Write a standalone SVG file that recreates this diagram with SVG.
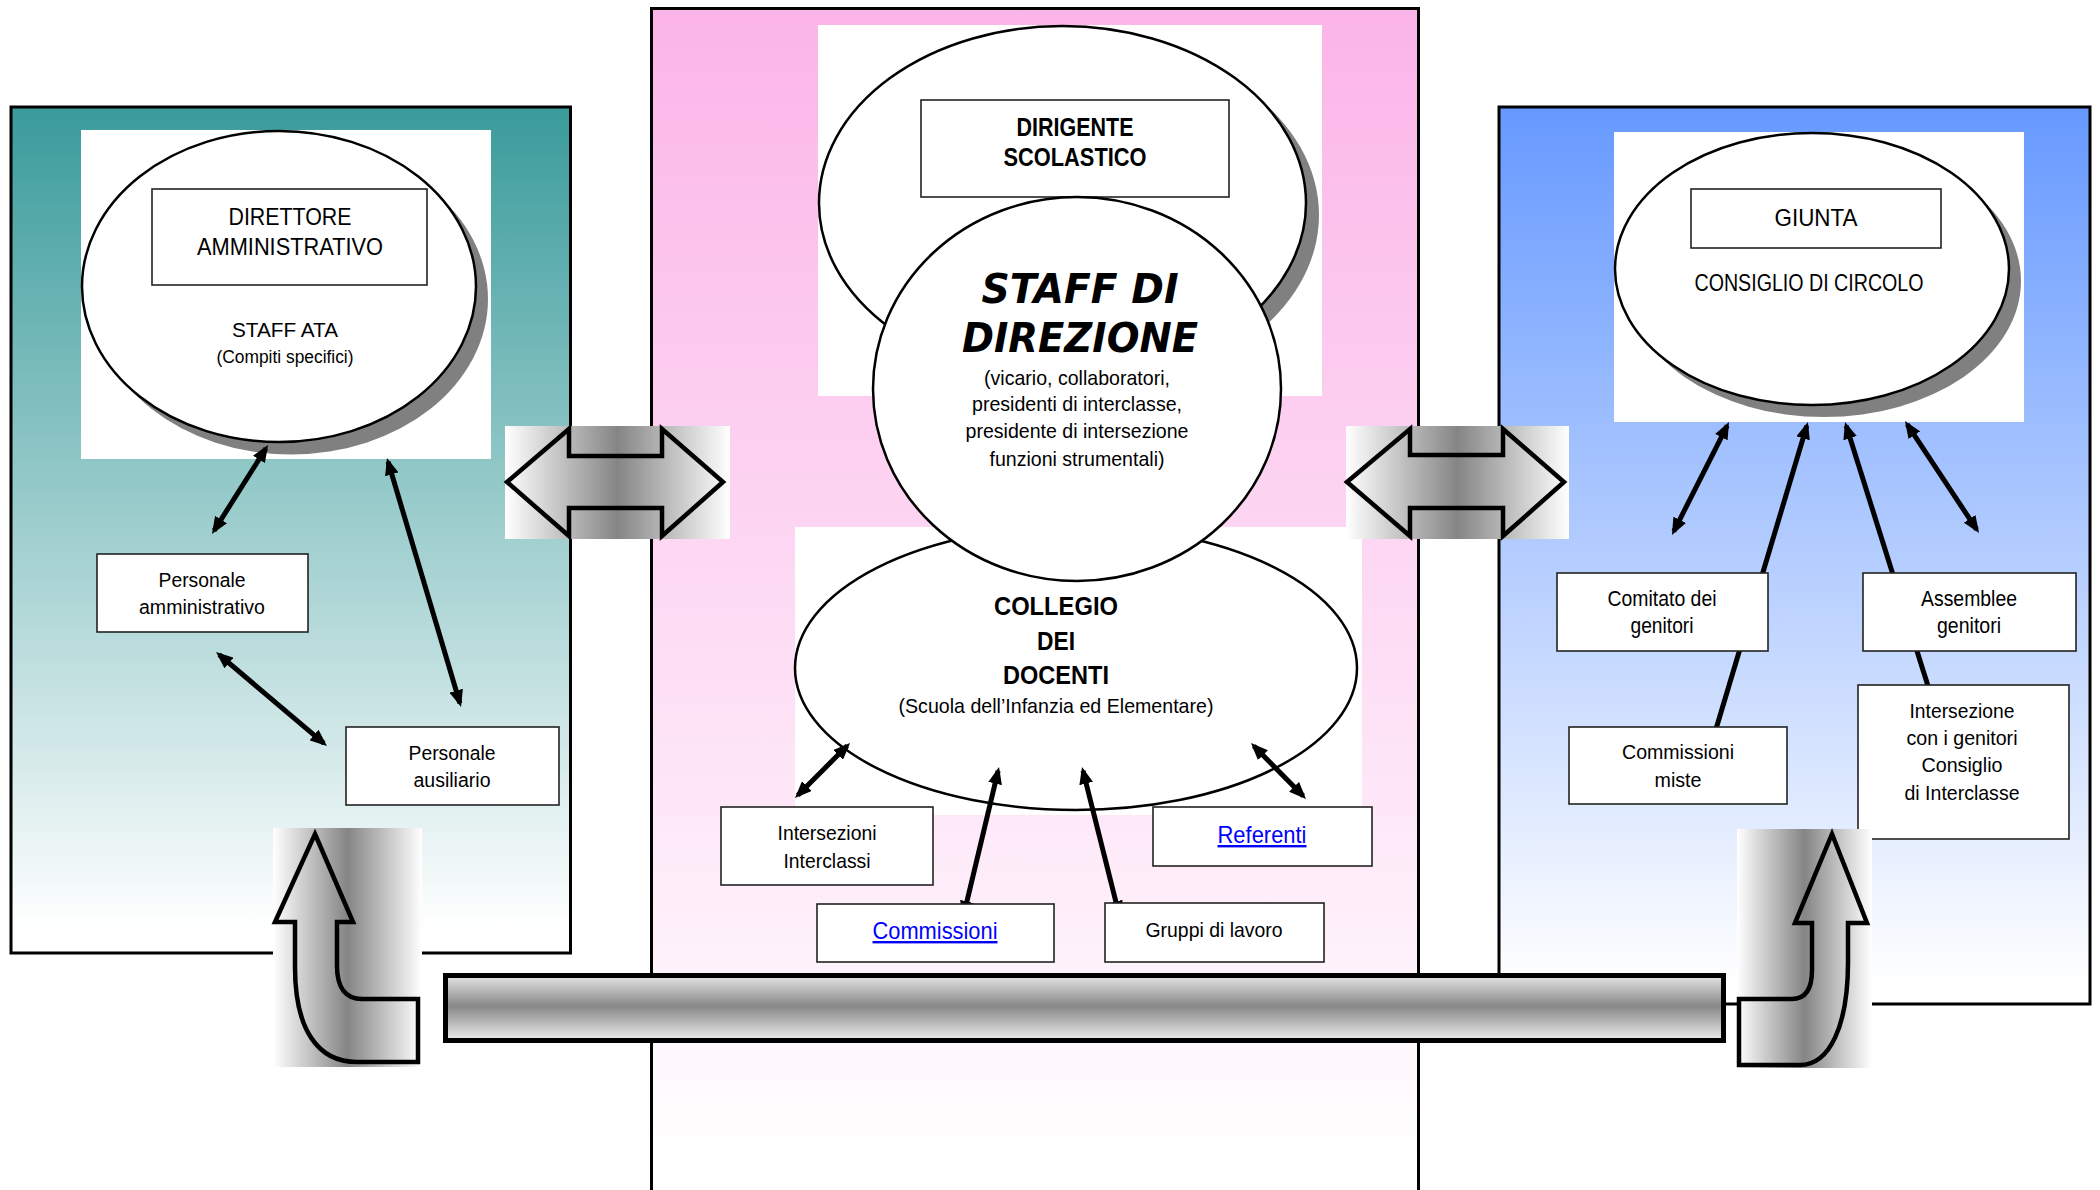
<svg xmlns="http://www.w3.org/2000/svg" width="2100" height="1190" viewBox="0 0 2100 1190">
<defs>
<style>
.t{font-family:"Liberation Sans Narrow","Arial Narrow","Liberation Sans",Arial,sans-serif;text-anchor:middle;fill:#000}
.b{font-weight:bold}
.lnk{fill:#0000ff;text-decoration:underline}
.box{fill:#fff;stroke:#222;stroke-width:1.6}
.ell{fill:#fff;stroke:#000;stroke-width:2.5}
.shd{fill:#808080}
.pan{stroke:#000;stroke-width:3}
.con{stroke:#000;stroke-width:5;fill:none}
.big{fill:none;stroke:#000;stroke-width:4.5;stroke-linejoin:miter}
</style>
<linearGradient id="gTeal" gradientUnits="userSpaceOnUse" x1="0" y1="107" x2="0" y2="953">
<stop offset="0" stop-color="#3a9b9b"/><stop offset="0.973" stop-color="#ffffff"/><stop offset="1" stop-color="#ffffff"/>
</linearGradient>
<linearGradient id="gPink" gradientUnits="userSpaceOnUse" x1="0" y1="8" x2="0" y2="1190">
<stop offset="0" stop-color="#fbb4e8"/><stop offset="0.98" stop-color="#ffffff"/><stop offset="1" stop-color="#ffffff"/>
</linearGradient>
<linearGradient id="gBlue" gradientUnits="userSpaceOnUse" x1="0" y1="107" x2="0" y2="1004">
<stop offset="0" stop-color="#6699ff"/><stop offset="0.98" stop-color="#ffffff"/><stop offset="1" stop-color="#ffffff"/>
</linearGradient>
<linearGradient id="gH" x1="0" y1="0" x2="1" y2="0">
<stop offset="0" stop-color="#ffffff"/><stop offset="0.5" stop-color="#858585"/><stop offset="1" stop-color="#ffffff"/>
</linearGradient>
<linearGradient id="gV" x1="0" y1="0" x2="0" y2="1">
<stop offset="0" stop-color="#e6e6e6"/><stop offset="0.47" stop-color="#878787"/><stop offset="1" stop-color="#eeeeee"/>
</linearGradient>
<marker id="ah" markerUnits="userSpaceOnUse" markerWidth="17" markerHeight="14" refX="13" refY="7" orient="auto-start-reverse" viewBox="0 0 17 14">
<path d="M0,0 L17,7 L0,14 Z" fill="#000"/>
</marker>
</defs>

<!-- panels -->
<g id="panel-left">
<rect class="pan" x="11" y="107" width="559.5" height="846" fill="url(#gTeal)"/>
<rect x="81" y="130" width="410" height="329" fill="#fff"/>
</g>
<g id="panel-center">
<rect class="pan" x="651.5" y="8.5" width="767" height="1200" fill="url(#gPink)"/>
<rect x="818" y="25" width="504" height="371" fill="#fff"/>
<rect x="795" y="527" width="567" height="288" fill="#fff"/>
</g>
<g id="panel-right">
<rect class="pan" x="1499" y="107" width="591" height="897" fill="url(#gBlue)"/>
<rect x="1614" y="132" width="410" height="290" fill="#fff"/>
</g>

<!-- ellipse nodes -->
<g id="direttore">
<ellipse class="shd" cx="291" cy="299" rx="197" ry="155.5"/>
<ellipse class="ell" cx="279" cy="286.5" rx="197" ry="155.5"/>
<rect class="box" x="152" y="189" width="275" height="96"/>
<text class="t" x="290" y="225" font-size="23" textLength="123" lengthAdjust="spacingAndGlyphs">DIRETTORE</text>
<text class="t" x="290" y="255" font-size="23" textLength="186" lengthAdjust="spacingAndGlyphs">AMMINISTRATIVO</text>
<text class="t" x="285" y="337" font-size="20" textLength="106" lengthAdjust="spacingAndGlyphs">STAFF ATA</text>
<text class="t" x="285" y="363" font-size="18" textLength="137" lengthAdjust="spacingAndGlyphs">(Compiti specifici)</text>
</g>
<g id="dirigente">
<ellipse class="shd" cx="1075.5" cy="215" rx="243.5" ry="177"/>
<ellipse class="ell" cx="1062.5" cy="203" rx="243.5" ry="177"/>
<rect class="box" x="921" y="100" width="308" height="97"/>
<text class="t b" x="1075" y="136" font-size="25" textLength="117" lengthAdjust="spacingAndGlyphs">DIRIGENTE</text>
<text class="t b" x="1075" y="166" font-size="25" textLength="143" lengthAdjust="spacingAndGlyphs">SCOLASTICO</text>
</g>
<g id="collegio">
<ellipse class="ell" cx="1076" cy="668" rx="281" ry="142"/>
<text class="t b" x="1056" y="615" font-size="25" textLength="124" lengthAdjust="spacingAndGlyphs">COLLEGIO</text>
<text class="t b" x="1056" y="650" font-size="25" textLength="38" lengthAdjust="spacingAndGlyphs">DEI</text>
<text class="t b" x="1056" y="684" font-size="25" textLength="106" lengthAdjust="spacingAndGlyphs">DOCENTI</text>
<text class="t" x="1056" y="713" font-size="21" textLength="315" lengthAdjust="spacingAndGlyphs">(Scuola dell’Infanzia ed Elementare)</text>
</g>
<g id="staff-direzione">
<ellipse class="ell" cx="1077" cy="389" rx="204" ry="192"/>
<text x="1080" y="303" font-family="'DejaVu Sans',Verdana,sans-serif" font-weight="bold" font-style="italic" font-size="41" text-anchor="middle" textLength="197" lengthAdjust="spacingAndGlyphs">STAFF DI</text>
<text x="1080" y="352" font-family="'DejaVu Sans',Verdana,sans-serif" font-weight="bold" font-style="italic" font-size="41" text-anchor="middle" textLength="236" lengthAdjust="spacingAndGlyphs">DIREZIONE</text>
<text class="t" x="1077" y="385" font-size="21" textLength="186" lengthAdjust="spacingAndGlyphs">(vicario, collaboratori,</text>
<text class="t" x="1077" y="411" font-size="21" textLength="210" lengthAdjust="spacingAndGlyphs">presidenti di interclasse,</text>
<text class="t" x="1077" y="438" font-size="21" textLength="223" lengthAdjust="spacingAndGlyphs">presidente di intersezione</text>
<text class="t" x="1077" y="466" font-size="21" textLength="175" lengthAdjust="spacingAndGlyphs">funzioni strumentali)</text>
</g>
<g id="giunta">
<ellipse class="shd" cx="1824" cy="281" rx="197" ry="136"/>
<ellipse class="ell" cx="1812" cy="269" rx="197" ry="136"/>
<rect class="box" x="1691" y="189" width="250" height="59"/>
<text class="t" x="1816" y="226" font-size="24" textLength="83" lengthAdjust="spacingAndGlyphs">GIUNTA</text>
<text class="t" x="1809" y="291" font-size="23" textLength="229" lengthAdjust="spacingAndGlyphs">CONSIGLIO DI CIRCOLO</text>
</g>

<!-- connectors -->
<g id="connectors">
<line class="con" x1="265.9" y1="448.4" x2="214.1" y2="530.6" marker-start="url(#ah)" marker-end="url(#ah)"/>
<line class="con" x1="388.1" y1="461.8" x2="459.9" y2="703.2" marker-start="url(#ah)" marker-end="url(#ah)"/>
<line class="con" x1="219.1" y1="654.6" x2="323.9" y2="743.4" marker-start="url(#ah)" marker-end="url(#ah)"/>
<line class="con" x1="847.2" y1="745.8" x2="797.8" y2="795.2" marker-start="url(#ah)" marker-end="url(#ah)"/>
<line class="con" x1="998.1" y1="770.9" x2="963.9" y2="914.1" marker-start="url(#ah)" marker-end="url(#ah)"/>
<line class="con" x1="1083" y1="770.9" x2="1119" y2="914.1" marker-start="url(#ah)" marker-end="url(#ah)"/>
<line class="con" x1="1253.8" y1="745.9" x2="1303.2" y2="796.1" marker-start="url(#ah)" marker-end="url(#ah)"/>
<line class="con" x1="1727.2" y1="425.6" x2="1673.8" y2="531.4" marker-start="url(#ah)" marker-end="url(#ah)"/>
<line class="con" x1="1716" y1="729" x2="1806.8" y2="425.8" marker-end="url(#ah)"/>
<line class="con" x1="1928" y1="686" x2="1846.2" y2="425.8" marker-end="url(#ah)"/>
<line class="con" x1="1907.2" y1="424.3" x2="1976.8" y2="529.7" marker-start="url(#ah)" marker-end="url(#ah)"/>
</g>

<!-- box nodes -->
<g id="personale-amministrativo">
<rect class="box" x="97" y="554" width="211" height="78"/>
<text class="t" x="202" y="587" font-size="20" textLength="87" lengthAdjust="spacingAndGlyphs">Personale</text>
<text class="t" x="202" y="614" font-size="20" textLength="126" lengthAdjust="spacingAndGlyphs">amministrativo</text>
</g>
<g id="personale-ausiliario">
<rect class="box" x="346" y="727" width="213" height="78"/>
<text class="t" x="452" y="760" font-size="20" textLength="87" lengthAdjust="spacingAndGlyphs">Personale</text>
<text class="t" x="452" y="787" font-size="20" textLength="77" lengthAdjust="spacingAndGlyphs">ausiliario</text>
</g>
<g id="intersezioni">
<rect class="box" x="721" y="807" width="212" height="78"/>
<text class="t" x="827" y="840" font-size="21" textLength="99" lengthAdjust="spacingAndGlyphs">Intersezioni</text>
<text class="t" x="827" y="868" font-size="21" textLength="87" lengthAdjust="spacingAndGlyphs">Interclassi</text>
</g>
<g id="referenti">
<rect class="box" x="1153" y="807" width="219" height="59"/>
<text class="t lnk" x="1262" y="843" font-size="24" textLength="89" lengthAdjust="spacingAndGlyphs">Referenti</text>
</g>
<g id="commissioni">
<rect class="box" x="817" y="904" width="237" height="58"/>
<text class="t lnk" x="935" y="939" font-size="24" textLength="125" lengthAdjust="spacingAndGlyphs">Commissioni</text>
</g>
<g id="gruppi">
<rect class="box" x="1105" y="903" width="219" height="59"/>
<text class="t" x="1214" y="937" font-size="21" textLength="137" lengthAdjust="spacingAndGlyphs">Gruppi di lavoro</text>
</g>
<g id="comitato">
<rect class="box" x="1557" y="573" width="211" height="78"/>
<text class="t" x="1662" y="606" font-size="22" textLength="109" lengthAdjust="spacingAndGlyphs">Comitato dei</text>
<text class="t" x="1662" y="633" font-size="22" textLength="63" lengthAdjust="spacingAndGlyphs">genitori</text>
</g>
<g id="assemblee">
<rect class="box" x="1863" y="573" width="213" height="78"/>
<text class="t" x="1969" y="606" font-size="22" textLength="96" lengthAdjust="spacingAndGlyphs">Assemblee</text>
<text class="t" x="1969" y="633" font-size="22" textLength="64" lengthAdjust="spacingAndGlyphs">genitori</text>
</g>
<g id="commissioni-miste">
<rect class="box" x="1569" y="727" width="218" height="77"/>
<text class="t" x="1678" y="759" font-size="21" textLength="112" lengthAdjust="spacingAndGlyphs">Commissioni</text>
<text class="t" x="1678" y="787" font-size="21" textLength="47" lengthAdjust="spacingAndGlyphs">miste</text>
</g>
<g id="intersezione-genitori">
<rect class="box" x="1858" y="685" width="211" height="154"/>
<text class="t" x="1962" y="718" font-size="21" textLength="105" lengthAdjust="spacingAndGlyphs">Intersezione</text>
<text class="t" x="1962" y="745" font-size="21" textLength="111" lengthAdjust="spacingAndGlyphs">con i genitori</text>
<text class="t" x="1962" y="772" font-size="21" textLength="81" lengthAdjust="spacingAndGlyphs">Consiglio</text>
<text class="t" x="1962" y="800" font-size="21" textLength="115" lengthAdjust="spacingAndGlyphs">di Interclasse</text>
</g>

<!-- big gradient arrows -->
<g id="double-arrow-left">
<rect x="505" y="426" width="225" height="113" fill="url(#gH)"/>
<path class="big" d="M507,482 L569,429 L569,456 L662,456 L662,429 L723,482 L662,536 L662,508 L569,508 L569,536 Z"/>
</g>
<g id="double-arrow-right">
<rect x="1346" y="426" width="223" height="113" fill="url(#gH)"/>
<path class="big" d="M1347,482 L1410,429 L1410,455 L1503,455 L1503,429 L1564,482 L1503,536 L1503,508 L1410,508 L1410,536 Z"/>
</g>
<g id="bent-arrow-left">
<rect x="273" y="828" width="149" height="239" fill="url(#gH)"/>
<path class="big" d="M315,834 L353,922 L337,922 L337,966 C337,988 346,999 362,999 L418,999 L418,1062 L357,1062 C318,1062 295,1030 295,967 L295,922 L275,922 Z"/>
</g>
<g id="bent-arrow-right">
<rect x="1737" y="829" width="135" height="239" fill="url(#gH)"/>
<path class="big" d="M1832,834 L1867,923 L1848,923 L1848,962 C1848,1025 1830,1065 1800,1065 L1739,1065 L1739,999 L1792,999 C1805,999 1812,990 1812,970 L1812,923 L1795,923 Z"/>
</g>
<g id="bar">
<rect x="445.5" y="975.5" width="1278" height="65" fill="url(#gV)" stroke="#000" stroke-width="5"/>
</g>
</svg>
